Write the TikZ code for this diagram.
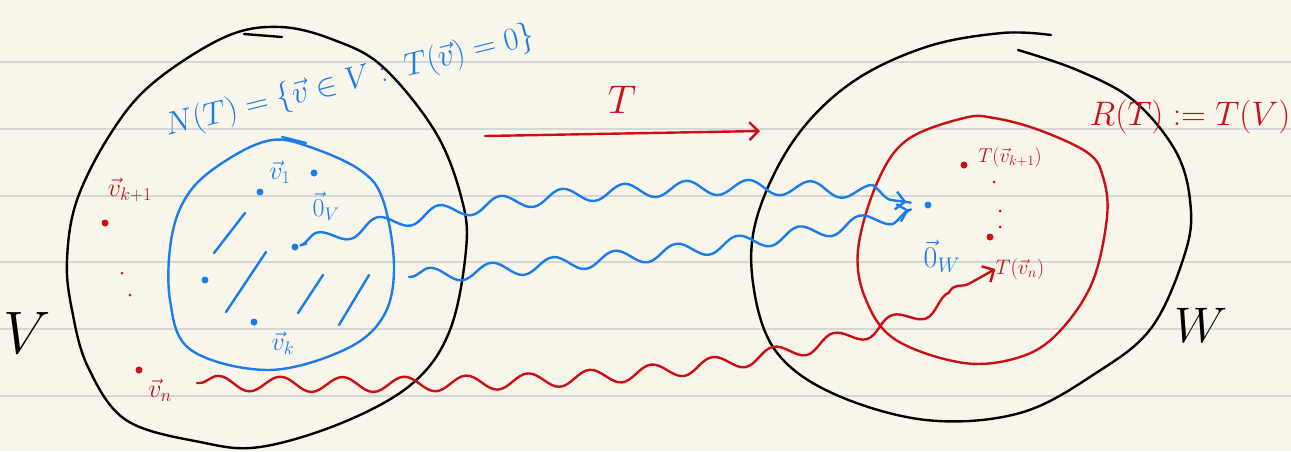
\RequirePackage{fix-cm}
\documentclass[tikz,border=0pt]{standalone}
\usetikzlibrary{arrows.meta,decorations.pathmorphing}
\definecolor{paper}{RGB}{248,246,234}
\definecolor{ruleline}{RGB}{214,214,214}
\definecolor{hblue}{RGB}{25,125,235}
\definecolor{hred}{RGB}{205,15,20}
\begin{document}
\begin{tikzpicture}[x=1pt,y=-1pt,
  ink/.style={line width=2.4pt,line cap=round,line join=round},
  blk/.style={ink,draw=black},
  blu/.style={ink,draw=hblue},
  rd/.style={ink,draw=hred},
  bdot/.style={circle,fill=hblue,inner sep=0pt,minimum size=7pt},
  rdot/.style={circle,fill=hred,inner sep=0pt,minimum size=7pt},
  sdot/.style={circle,fill=hred,inner sep=0pt,minimum size=3pt},
  wave/.style={decorate,decoration={snake,amplitude=7.5pt,segment length=62pt,pre length=2pt,post length=14pt}},
  tip/.style={-{Straight Barb[length=9pt,width=18pt]}},
  lab/.style={inner sep=0pt},
]
\useasboundingbox (0,0) rectangle (1291,451);
\fill[paper] (0,0) rectangle (1291,451);
\foreach \yy in {62,129,196,262,329,396} \draw[ruleline,line width=1.6pt] (0,\yy) -- (1291,\yy);

% V blob
\draw[blk] plot[smooth cycle,tension=0.6] coordinates {(280,27) (334,40) (383,67) (436,133) (462,200) (466,250) (450,330) (413,383) (344,422) (260,447) (200,442) (126,420) (88,367) (72,310) (67,260) (77,200) (111,133) (153,83) (225,37)};
\draw[blk] (244,34) -- (282,37);
% blue inner blob
\draw[blu] plot[smooth cycle,tension=0.6] coordinates {(272,140) (230,158) (191,190) (172,235) (170,300) (191,350) (268,370) (344,350) (383,317) (394,267) (383,200) (360,170) (310,147)};
\draw[blu] (282,137) -- (306,143);
% hatch lines
\draw[blu] (214,253) -- (245,213);
\draw[blu] (226,312) -- (266,252);
\draw[blu] (298,313) -- (323,275);
\draw[blu] (339,325) -- (369,275);

% W blob
\draw[blk] plot[smooth,tension=0.6] coordinates {(1051,35) (1002,33) (926,47) (851,83) (794,140) (757,217) (753,283) (775,350) (832,393) (926,420) (1020,413) (1096,373) (1152,327) (1186,250) (1190,200) (1175,150) (1133,100) (1077,70) (1018,50)};
% red inner blob
\draw[rd] plot[smooth cycle,tension=0.6] coordinates {(964,118) (907,140) (877,183) (858,250) (866,300) (896,340) (964,363) (1020,357) (1058,333) (1092,283) (1107,217) (1103,177) (1088,153) (1039,130) (994,118)};

% dots
\node[bdot] (d1) at (260,192) {};
\node[bdot] (d2) at (314,173) {};
\node[bdot] (d0V) at (295,247) {};
\node[bdot] (d3) at (205,280) {};
\node[bdot] (dk) at (254,322) {};
\node[bdot] (d0W) at (928,205) {};
\node[rdot] (dk1) at (105,223) {};
\node[rdot] (dn) at (139,370) {};
\node[rdot] (dTk1) at (964,165) {};
\node[rdot] (dTn) at (990,237) {};
\node[sdot] (e1) at (122,273) {};
\node[sdot] (e2) at (130,295) {};
\node[sdot] (e3) at (994,182) {};
\node[sdot] (e4) at (1000,211) {};
\node[sdot] (e5) at (1000,227) {};

% labels
\node[lab,text=hblue,rotate=14,font=\fontsize{32}{38}\selectfont] (NT) at (350,82) {$N(T)=\{\vec{v}\in V:\ T(\vec{v})=0\}$};
\node[lab,text=hred,font=\fontsize{34}{40}\selectfont] (RT) at (1190,117) {$R(T):=T(V)$};
\node[lab,text=hred,font=\fontsize{40}{46}\selectfont] (Tl) at (622,100) {$T$};
\node[lab,font=\fontsize{60}{70}\selectfont] (Vl) at (27,333) {$V$};
\node[lab,font=\fontsize{50}{56}\selectfont] (Wl) at (1201,325) {$W$};
\node[lab,text=hblue,font=\fontsize{26}{30}\selectfont] (v1) at (280,172) {$\vec{v}_1$};
\node[lab,text=hblue,font=\fontsize{26}{30}\selectfont] (o0V) at (326,206) {$\vec{0}_V$};
\node[lab,text=hblue,font=\fontsize{26}{30}\selectfont] (vk) at (283,343) {$\vec{v}_k$};
\node[lab,text=hred,font=\fontsize{26}{30}\selectfont] (vk1) at (130,190) {$\vec{v}_{k+1}$};
\node[lab,text=hred,font=\fontsize{26}{30}\selectfont] (vn) at (160,390) {$\vec{v}_n$};
\node[lab,text=hred,font=\fontsize{20}{24}\selectfont] (Tvk1) at (1010,157) {$T(\vec{v}_{k+1})$};
\node[lab,text=hred,font=\fontsize{21}{25}\selectfont] (Tvn) at (1020,269) {$T(\vec{v}_n)$};
\node[lab,text=hblue,font=\fontsize{30}{34}\selectfont] (o0W) at (942,256) {$\vec{0}_W$};

% T arrow
\coordinate (ta) at (485,136);
\coordinate (tb) at (760,131);
\draw[rd,tip] (ta) -- (tb);

% wavy connectors
\draw[blu,wave,tip,shorten <=8pt,shorten >=18pt] (d0V) .. controls (450,200) and (720,175) .. (d0W);
\coordinate (bs) at (409,277);
\draw[blu,wave,tip,shorten >=16pt] (bs) .. controls (600,262) and (800,240) .. (d0W);
\coordinate (rs) at (197,383);
\draw[rd,wave,tip] (rs) .. controls (600,390) and (820,370) .. (Tvn.west);
\end{tikzpicture}
\end{document}
